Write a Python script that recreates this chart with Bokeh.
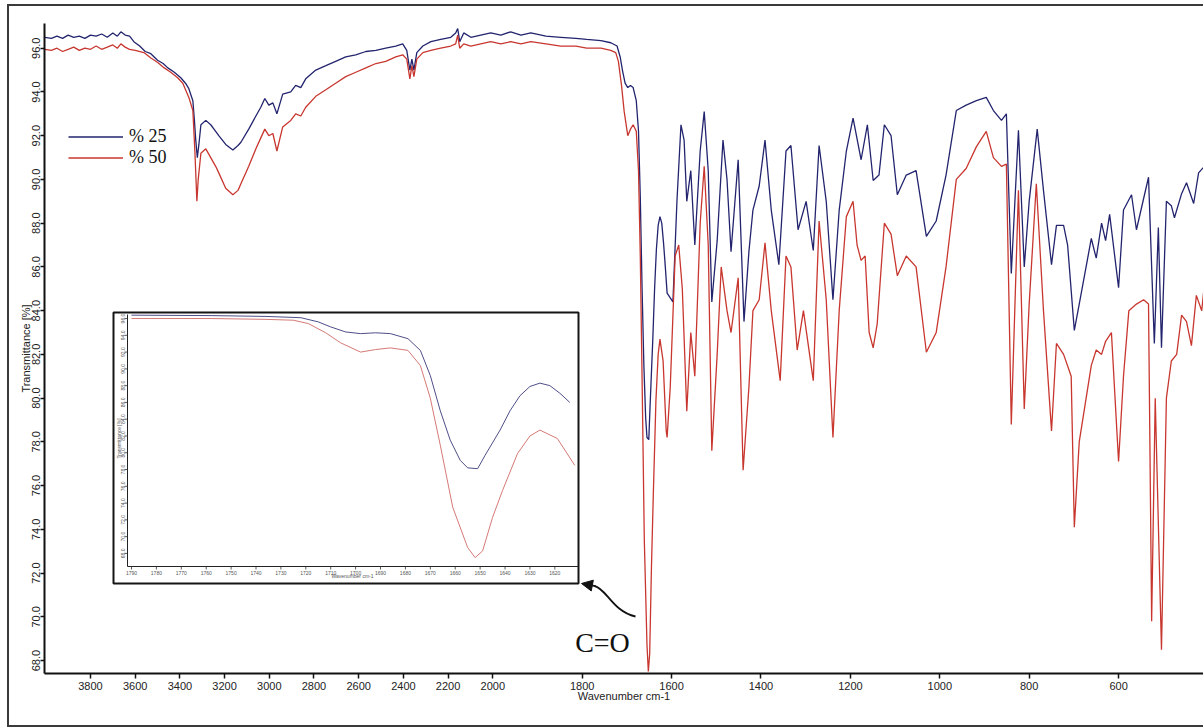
import numpy as np
from bokeh.plotting import figure
from bokeh.models import (Range1d, FixedTicker, PrintfTickFormatter, Legend, LegendItem,
                          Arrow, NormalHead, Label, ColumnDataSource)
from bokeh.embed import file_html
from bokeh.resources import INLINE
from bokeh.core.properties import value

# ---------------- data ----------------
series_names = ["% 25", "% 50"]

blue_wn = [4004, 3975, 3950, 3925, 3900, 3875, 3850, 3825, 3800, 3775, 3750, 3725, 3700, 3680, 3664,
           3645, 3625, 3606, 3580, 3555, 3530, 3500, 3475, 3454, 3425, 3396, 3375, 3360, 3342, 3335,
           3329, 3322, 3315, 3306, 3284, 3262, 3240, 3226, 3195, 3163, 3140, 3127, 3092, 3060, 3038,
           3020, 3002, 2984, 2966, 2940, 2904, 2882, 2859, 2837, 2792, 2747, 2703, 2658, 2613, 2568,
           2523, 2479, 2434, 2403, 2385, 2371, 2362, 2353, 2340, 2313, 2277, 2233, 2188, 2166, 2157,
           2148, 2130, 2098, 2054, 2009, 1982, 1960, 1937, 1915, 1881, 1848, 1814, 1790, 1758, 1736,
           1722, 1715, 1710, 1704, 1698, 1692, 1686, 1679, 1674, 1670, 1666, 1662, 1658, 1655, 1651,
           1648, 1642, 1638, 1634, 1630, 1626, 1622, 1618, 1614, 1610, 1597, 1588, 1579, 1572, 1566,
           1557, 1548, 1536, 1527, 1518, 1510, 1498, 1485, 1476, 1467, 1451, 1438, 1427, 1418, 1404,
           1391, 1377, 1360, 1344, 1333, 1317, 1299, 1283, 1270, 1254, 1239, 1225, 1209, 1194, 1176,
           1162, 1149, 1136, 1124, 1109, 1095, 1075, 1053, 1030, 1008, 986, 963, 941, 918, 896,
           880, 862, 851, 840, 824, 811, 800, 782, 768, 750, 739, 723, 714, 699, 688,
           661, 650, 638, 629, 620, 600, 589, 571, 560, 533, 520, 511, 504, 493, 482,
           475, 459, 448, 432, 421, 408]
blue_t = [96.50, 96.45, 96.55, 96.45, 96.60, 96.50, 96.55, 96.45, 96.60, 96.55, 96.65, 96.50, 96.70, 96.55, 96.75,
          96.60, 96.55, 96.30, 96.10, 95.85, 95.75, 95.45, 95.30, 95.10, 94.90, 94.65, 94.40, 94.15, 93.60, 92.70,
          91.80, 91.00, 91.60, 92.50, 92.70, 92.50, 92.20, 92.00, 91.60, 91.35, 91.55, 91.70, 92.30, 92.90, 93.30,
          93.70, 93.40, 93.50, 93.00, 93.90, 94.00, 94.30, 94.20, 94.60, 95.00, 95.20, 95.40, 95.60, 95.70, 95.85,
          95.90, 96.00, 96.10, 96.20, 95.90, 95.00, 95.50, 95.00, 95.80, 96.10, 96.30, 96.40, 96.50, 96.70, 96.90,
          96.30, 96.70, 96.50, 96.60, 96.70, 96.60, 96.75, 96.60, 96.70, 96.55, 96.50, 96.45, 96.40, 96.35, 96.25,
          96.10, 95.60, 95.00, 94.40, 94.20, 94.30, 94.20, 93.60, 92.20, 89.20, 85.00, 81.50, 79.10, 78.20, 78.10,
          79.70, 82.70, 85.00, 86.80, 87.90, 88.30, 88.00, 87.10, 86.00, 84.80, 84.40, 89.00, 92.50, 91.80, 89.00,
          90.40, 87.00, 91.30, 93.10, 90.40, 84.40, 87.20, 91.80, 90.00, 86.70, 90.90, 83.50, 86.70, 88.60, 89.70,
          91.80, 88.60, 86.10, 91.30, 91.55, 87.70, 89.00, 86.75, 91.55, 89.00, 84.50, 88.60, 91.30, 92.80, 90.90,
          92.50, 89.95, 90.20, 92.50, 92.00, 89.30, 90.20, 90.40, 87.40, 88.10, 90.20, 93.15, 93.40, 93.60, 93.75,
          93.15, 92.70, 93.00, 85.70, 92.25, 86.00, 89.00, 92.30, 89.50, 86.10, 87.90, 87.90, 87.00, 83.10, 84.30,
          87.30, 86.40, 88.00, 87.20, 88.40, 85.05, 88.60, 89.30, 87.70, 90.10, 82.50, 87.80, 82.30, 89.00, 88.80,
          88.25, 89.35, 89.85, 88.90, 90.30, 90.60]

red_wn = [4004, 3975, 3950, 3925, 3900, 3875, 3850, 3825, 3800, 3775, 3750, 3725, 3700, 3680, 3664,
          3645, 3625, 3600, 3561, 3530, 3499, 3470, 3441, 3410, 3387, 3360, 3342, 3333, 3324, 3318,
          3306, 3284, 3262, 3240, 3226, 3195, 3163, 3140, 3127, 3092, 3060, 3038, 3020, 3002, 2984,
          2966, 2940, 2904, 2882, 2859, 2837, 2792, 2747, 2703, 2658, 2613, 2568, 2523, 2479, 2434,
          2403, 2385, 2371, 2362, 2353, 2340, 2313, 2277, 2233, 2188, 2166, 2157, 2148, 2130, 2098,
          2054, 2009, 1982, 1960, 1937, 1915, 1881, 1848, 1814, 1790, 1758, 1736, 1725, 1719, 1712,
          1706, 1698, 1692, 1686, 1679, 1674, 1670, 1666, 1661, 1655, 1652, 1649, 1645, 1641, 1635,
          1630, 1626, 1619, 1612, 1610, 1603, 1592, 1584, 1576, 1566, 1557, 1548, 1536, 1527, 1518,
          1510, 1498, 1489, 1476, 1467, 1451, 1440, 1427, 1418, 1404, 1391, 1377, 1357, 1344, 1333,
          1319, 1305, 1283, 1270, 1254, 1239, 1225, 1209, 1194, 1185, 1176, 1167, 1158, 1149, 1140,
          1124, 1109, 1095, 1075, 1053, 1030, 1008, 986, 963, 941, 918, 896, 880, 862, 851,
          840, 824, 811, 800, 784, 768, 750, 739, 723, 706, 699, 688, 661, 650, 638,
          629, 616, 600, 589, 577, 560, 544, 533, 526, 518, 504, 493, 482, 470, 459,
          448, 437, 426, 414, 408]
red_t = [95.95, 95.90, 96.00, 95.85, 95.95, 96.05, 95.90, 96.00, 95.95, 96.10, 95.95, 96.05, 96.15, 96.00, 96.20,
         96.05, 95.95, 95.90, 95.80, 95.55, 95.35, 95.10, 94.90, 94.65, 94.40, 93.75, 93.15, 91.30, 89.00, 90.00,
         91.20, 91.40, 91.00, 90.60, 90.30, 89.60, 89.30, 89.50, 89.80, 90.60, 91.40, 91.90, 92.30, 92.00, 92.10,
         91.30, 92.40, 92.70, 93.00, 92.90, 93.30, 93.80, 94.10, 94.40, 94.70, 94.90, 95.10, 95.30, 95.40, 95.60,
         95.70, 95.50, 94.60, 95.20, 94.70, 95.50, 95.80, 95.90, 96.00, 96.10, 96.20, 96.60, 96.00, 96.20, 96.10,
         96.20, 96.30, 96.20, 96.30, 96.20, 96.30, 96.20, 96.10, 96.10, 96.00, 96.00, 95.90, 95.80, 95.40, 94.30,
         93.10, 92.00, 92.30, 92.50, 92.20, 90.40, 86.50, 80.90, 73.50, 68.70, 67.50, 68.30, 72.30, 75.50, 79.90,
         82.00, 82.70, 81.70, 78.50, 78.20, 80.50, 86.50, 87.00, 85.00, 79.40, 83.00, 81.00, 88.00, 90.60, 87.00,
         77.60, 82.00, 86.00, 84.00, 83.00, 85.50, 76.70, 80.50, 84.00, 84.50, 87.10, 84.00, 80.80, 86.50, 86.00,
         82.20, 84.00, 80.80, 88.10, 84.50, 78.20, 84.00, 88.30, 89.00, 87.00, 86.30, 86.50, 83.00, 82.30, 83.40,
         88.00, 87.50, 85.60, 86.50, 86.00, 82.10, 83.00, 86.00, 90.00, 90.50, 91.50, 92.20, 91.00, 90.60, 90.70,
         78.80, 89.50, 79.50, 84.30, 89.80, 84.00, 78.50, 82.50, 82.00, 81.00, 74.10, 78.00, 81.50, 82.20, 82.00,
         82.60, 83.00, 77.10, 81.00, 84.00, 84.30, 84.50, 84.30, 69.80, 80.00, 68.50, 80.00, 81.70, 82.00, 83.80,
         83.50, 82.40, 84.70, 84.00, 85.20]

x_tick_values = [3800, 3600, 3400, 3200, 3000, 2800, 2600, 2400, 2200, 2000,
                 1800, 1600, 1400, 1200, 1000, 800, 600, 400]
y_tick_values = [68, 70, 72, 74, 76, 78, 80, 82, 84, 86, 88, 90, 92, 94, 96]
inset_x_ticks = [1790, 1780, 1770, 1760, 1750, 1740, 1730, 1720, 1710, 1700,
                 1690, 1680, 1670, 1660, 1650, 1640, 1630, 1620]
inset_y_ticks = y_tick_values

# ---------------- layout (page pixels) ----------------
OX, OY = 9, 6                               # page position of the canvas (css margin)
W, H = 1203 - OX, 719
FL, FR, FT, FB = 44, 1203, 23, 673          # main frame edges on the page
X_VIEW = (-5.8, 5180.0)                      # axis units at frame left/right
Y_VIEW = (67.41, 97.13)

IL, IR, IT, IB = 127, 578, 314, 566         # inset axes box on the page
I_XWIN = (1791.6, 1610.5)                    # wavenumbers at inset left/right
I_YWIN = (66.44, 96.48)                      # transmittance at inset bottom/top


def axis_pos(w):
    """FTIR axis with a 2x scale change below 2000 cm-1."""
    w = np.asarray(w, dtype=float)
    return np.where(w >= 2000, 4000 - w, 2000 + 2 * (2000 - w))


def mx(X):
    return X_VIEW[0] + (X - FL) / (FR - FL) * (X_VIEW[1] - X_VIEW[0])


def my(Y):
    return Y_VIEW[1] - (Y - FT) / (FB - FT) * (Y_VIEW[1] - Y_VIEW[0])


def ix(X):
    return I_XWIN[0] + (X - IL) / (IR - IL) * (I_XWIN[1] - I_XWIN[0])


def iy(Y):
    return I_YWIN[1] - (Y - IT) / (IB - IT) * (I_YWIN[1] - I_YWIN[0])


BLUE = "#23246e"
RED = "#c8372f"
FONT = "Liberation Sans"
EC = "#3a3a3a"

p = figure(width=W, height=H, output_backend="svg", toolbar_location=None,
           x_range=Range1d(*X_VIEW), y_range=Range1d(*Y_VIEW),
           min_border_left=FL - OX, min_border_right=0,
           min_border_top=FT - OY, min_border_bottom=H - (FB - OY),
           outline_line_color=None, background_fill_color="white",
           border_fill_color="white")
# outer picture frame (left, top, bottom) drawn as shadows so sizes stay exact
p.styles = {"margin-left": f"{OX}px", "margin-top": f"{OY}px",
            "box-shadow": (f"-2px 0 0 0 {EC}, 0 -2px 0 0 {EC}, -2px -2px 0 0 {EC}, "
                           f"0 2px 0 0 {EC}, -2px 2px 0 0 {EC}")}
p.extra_x_ranges = {"ix": Range1d(ix(FL), ix(FR))}
p.extra_y_ranges = {"iy": Range1d(iy(FB), iy(FT))}
p.grid.visible = False

# axes
xt = axis_pos(x_tick_values)
p.xaxis.ticker = FixedTicker(ticks=[float(t) for t in xt])
p.xaxis.major_label_overrides = {float(t): str(w) for t, w in zip(xt, x_tick_values)}
p.xaxis.axis_label = "Wavenumber cm-1"
p.yaxis.ticker = FixedTicker(ticks=y_tick_values)
p.yaxis.formatter = PrintfTickFormatter(format="%.1f")
p.yaxis.major_label_orientation = "vertical"
p.yaxis.axis_label = "Transmittance [%]"
for ax in (p.xaxis, p.yaxis):
    ax.axis_line_width = 2
    ax.axis_line_color = "#111111"
    ax.major_tick_line_width = 1.5
    ax.major_tick_line_color = "#111111"
    ax.major_tick_in = 0
    ax.minor_tick_line_color = None
    ax.major_label_text_font = FONT
    ax.major_label_text_font_size = "11px"
    ax.major_label_text_color = "#222222"
    ax.axis_label_text_font = FONT
    ax.axis_label_text_font_size = "11px"
    ax.axis_label_text_font_style = "normal"
    ax.axis_label_text_color = "#222222"
p.xaxis.major_tick_out = 5
p.xaxis.major_label_standoff = 3
p.xaxis.axis_label_standoff = -3
p.yaxis.major_tick_out = 4
p.yaxis.major_label_standoff = 0
p.yaxis.axis_label_standoff = -2

# the last tick label (400) falls just past the right edge; keep it, tucked against the edge
p.add_layout(Label(x=FR - FL - 1, x_units="screen", y=-14, y_units="screen",
                   text=str(x_tick_values[-1]), text_font=FONT, text_font_size="11px",
                   text_color="#222222", text_align="right", text_baseline="middle"))

# main spectra
src_b = ColumnDataSource(dict(u=axis_pos(blue_wn), t=blue_t))
src_r = ColumnDataSource(dict(u=axis_pos(red_wn), t=red_t))
rb = p.line("u", "t", source=src_b, line_color=BLUE, line_width=1.3)
rr = p.line("u", "t", source=src_r, line_color=RED, line_width=1.3)

LEG_TOP = 126
legend = Legend(items=[LegendItem(label=series_names[0], renderers=[rb]),
                       LegendItem(label=series_names[1], renderers=[rr])],
                location=(68 - FL, FB - LEG_TOP - 42), orientation="vertical",
                margin=0, padding=0, spacing=0,
                glyph_width=55, glyph_height=21, label_height=21, label_standoff=6,
                label_text_font="Liberation Serif", label_text_font_size="18px",
                label_text_color="#111111", border_line_color=None,
                background_fill_alpha=0)
p.add_layout(legend)

# ---------------- inset (zoom on the C=O band) ----------------
p.quad(left=ix(113), right=ix(578), top=iy(312), bottom=iy(583),
       fill_color="white", line_color="#151515", line_width=2,
       x_range_name="ix", y_range_name="iy")
p.line([ix(IL), ix(IL), ix(IR)], [iy(IT), iy(IB), iy(IB)], line_color="#222222",
       line_width=1, x_range_name="ix", y_range_name="iy")
p.segment(x0=inset_x_ticks, x1=inset_x_ticks, y0=[iy(IB)] * len(inset_x_ticks),
          y1=[iy(IB + 3)] * len(inset_x_ticks), line_color="#333333", line_width=0.8,
          x_range_name="ix", y_range_name="iy")
p.segment(x0=[ix(IL - 3)] * len(inset_y_ticks), x1=[ix(IL)] * len(inset_y_ticks),
          y0=inset_y_ticks, y1=inset_y_ticks, line_color="#333333", line_width=0.8,
          x_range_name="ix", y_range_name="iy")
p.text(x=inset_x_ticks, y=[iy(IB + 6)] * len(inset_x_ticks),
       text=[str(v) for v in inset_x_ticks], text_font=value(FONT),
       text_font_size=value("5px"), text_color="#555555", text_align="center",
       text_baseline="middle", x_range_name="ix", y_range_name="iy")
p.text(x=[ix(IL - 5)] * len(inset_y_ticks), y=inset_y_ticks,
       text=["%.1f" % v for v in inset_y_ticks], text_font=value(FONT),
       text_font_size=value("5px"), text_color="#555555", text_align="center",
       text_baseline="middle", angle=np.pi / 2, x_range_name="ix", y_range_name="iy")
p.text(x=[ix(352)], y=[iy(IB + 9)], text=["Wavenumber cm-1"], text_font=value(FONT),
       text_font_size=value("5px"), text_color="#555555", text_align="center",
       text_baseline="middle", x_range_name="ix", y_range_name="iy")
p.text(x=[ix(IL - 9)], y=[iy(438)], text=["Transmittance [%]"], text_font=value(FONT),
       text_font_size=value("5px"), text_color="#555555", text_align="center",
       text_baseline="middle", angle=np.pi / 2, x_range_name="ix", y_range_name="iy")

bw = np.asarray(blue_wn, float)
rw = np.asarray(red_wn, float)
mb = (bw <= I_XWIN[0]) & (bw >= I_XWIN[1])
mr = (rw <= I_XWIN[0]) & (rw >= I_XWIN[1])
p.line(bw[mb], np.asarray(blue_t)[mb], line_color="#3a3a7a", line_width=0.9,
       x_range_name="ix", y_range_name="iy")
p.line(rw[mr], np.asarray(red_t)[mr], line_color="#d06a66", line_width=0.9,
       x_range_name="ix", y_range_name="iy")

# ---------------- C=O annotation ----------------
p.add_layout(Label(x=mx(602), y=my(642), text="C=O", text_font="Liberation Serif",
                   text_font_size="28px", text_color="#111111", text_align="center",
                   text_baseline="alphabetic"))
p.bezier(x0=[mx(635)], y0=[my(616)], x1=[mx(594)], y1=[my(585.5)],
         cx0=[mx(612)], cy0=[my(611)], cx1=[mx(606)], cy1=[my(588)],
         line_color="#111111", line_width=1.8)
p.add_layout(Arrow(end=NormalHead(size=11, fill_color="#111111", line_color="#111111"),
                   x_start=mx(595), y_start=my(585.7), x_end=mx(581), y_end=my(583),
                   line_color="#111111", line_width=1.8))

open("out.html", "w").write(file_html(p, INLINE))
